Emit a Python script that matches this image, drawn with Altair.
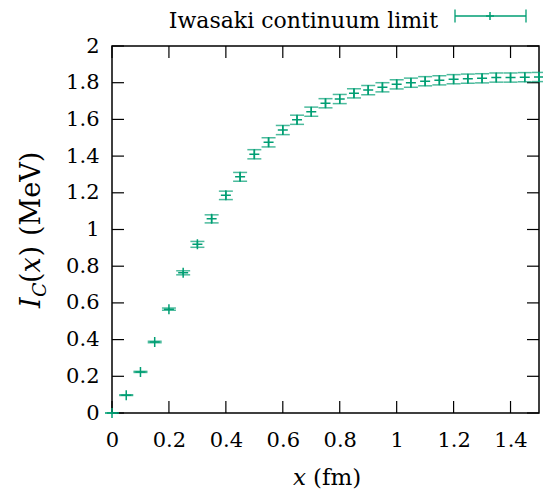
import altair as alt
import pandas as pd

# data
x_vals = [0.0, 0.05, 0.10, 0.15, 0.20, 0.25, 0.30, 0.35, 0.40, 0.45,
          0.50, 0.55, 0.60, 0.65, 0.70, 0.75, 0.80, 0.85, 0.90, 0.95,
          1.00, 1.05, 1.10, 1.15, 1.20, 1.25, 1.30, 1.35, 1.40, 1.45, 1.50]
y_vals = [0.0, 0.097, 0.224, 0.387, 0.566, 0.764, 0.919, 1.058, 1.186, 1.287,
          1.410, 1.475, 1.542, 1.598, 1.642, 1.688, 1.711, 1.742, 1.760, 1.775,
          1.791, 1.800, 1.808, 1.813, 1.819, 1.822, 1.824, 1.828, 1.828, 1.830, 1.831]
y_errs = [0.0, 0.002, 0.003, 0.004, 0.006, 0.011, 0.016, 0.022, 0.023, 0.024,
          0.025, 0.025, 0.025, 0.025, 0.025, 0.025, 0.025, 0.025, 0.025, 0.025,
          0.025, 0.025, 0.025, 0.025, 0.025, 0.025, 0.025, 0.025, 0.025, 0.025, 0.025]
x_ticks = [0, 0.2, 0.4, 0.6, 0.8, 1.0, 1.2, 1.4]
y_ticks = [0, 0.2, 0.4, 0.6, 0.8, 1.0, 1.2, 1.4, 1.6, 1.8, 2.0]
series_name = "Iwasaki continuum limit"

W, H = 427, 367
GREEN = "#009e73"
FONT = "DejaVu Serif"
TICK = 12

df = pd.DataFrame({"x": x_vals, "y": y_vals, "err": y_errs})
df["lo"] = df["y"] - df["err"]
df["hi"] = df["y"] + df["err"]

xs = alt.Scale(domain=[0, 1.5], nice=False, zero=False)
ys = alt.Scale(domain=[0, 2], nice=False, zero=False)

xaxis = alt.Axis(values=x_ticks, format="~g", labelFont=FONT, labelFontSize=21,
                 labelColor="black", ticks=False, domain=False, grid=False,
                 labelPadding=16, labelFlush=False, labelOverlap=False,
                 labelBound=False, title=None)
yaxis = alt.Axis(values=y_ticks, format="~g", labelFont=FONT, labelFontSize=21,
                 labelColor="black", ticks=False, domain=False, grid=False,
                 labelPadding=13, labelFlush=False, labelOverlap=False,
                 labelBound=False, title=None)


def X(f):
    return alt.X(f, scale=xs, axis=xaxis)


def Y(f):
    return alt.Y(f, scale=ys, axis=yaxis)


base = alt.Chart(df)

bars = base.mark_rule(color=GREEN, strokeWidth=1.5, clip=False).encode(
    x=X("x:Q"), y=Y("lo:Q"), y2="hi:Q")
cap_lo = base.mark_tick(color=GREEN, orient="horizontal", size=14, thickness=1.5,
                        clip=False).encode(x=X("x:Q"), y=Y("lo:Q"))
cap_hi = base.mark_tick(color=GREEN, orient="horizontal", size=14, thickness=1.5,
                        clip=False).encode(x=X("x:Q"), y=Y("hi:Q"))
pts = base.mark_point(shape="M-1,0L1,0M0,-1L0,1", size=100, strokeWidth=1.5,
                      color=GREEN, filled=False, opacity=1, clip=False).encode(
    x=X("x:Q"), y=Y("y:Q"))

xt = alt.Chart(pd.DataFrame({"t": x_ticks}))
yt = alt.Chart(pd.DataFrame({"t": y_ticks}))
tick_b = xt.mark_rule(color="black", strokeWidth=1.2).encode(
    x=X("t:Q"), y=alt.value(H), y2=alt.value(H - TICK))
tick_t = xt.mark_rule(color="black", strokeWidth=1.2).encode(
    x=X("t:Q"), y=alt.value(0), y2=alt.value(TICK))
tick_l = yt.mark_rule(color="black", strokeWidth=1.2).encode(
    y=Y("t:Q"), x=alt.value(0), x2=alt.value(TICK))
tick_r = yt.mark_rule(color="black", strokeWidth=1.2).encode(
    y=Y("t:Q"), x=alt.value(W), x2=alt.value(W - TICK))

lab = alt.Chart(pd.DataFrame({"name": [series_name]}))
leg_text = lab.mark_text(font=FONT, fontSize=22, align="right", baseline="alphabetic",
                         color="black").encode(
    text="name:N", x=alt.value(326), y=alt.value(-18))
leg_line = lab.mark_rule(color=GREEN, strokeWidth=1.3).encode(
    x=alt.value(343), x2=alt.value(414), y=alt.value(-30))
leg_cap1 = lab.mark_rule(color=GREEN, strokeWidth=1.3).encode(
    x=alt.value(343), y=alt.value(-36.5), y2=alt.value(-23.5))
leg_cap2 = lab.mark_rule(color=GREEN, strokeWidth=1.3).encode(
    x=alt.value(414), y=alt.value(-36.5), y2=alt.value(-23.5))
leg_pt = lab.mark_point(shape="M-1,0L1,0M0,-1L0,1", size=64, strokeWidth=1.5,
                        color=GREEN, filled=False, opacity=1).encode(
    x=alt.value(378), y=alt.value(-30))

xt_i = lab.mark_text(font=FONT, fontSize=23, fontStyle="italic", align="right",
                     baseline="alphabetic", color="black").encode(
    text=alt.value("x"), x=alt.value(194), y=alt.value(439))
xt_u = lab.mark_text(font=FONT, fontSize=23, align="left",
                     baseline="alphabetic", color="black").encode(
    text=alt.value("(fm)"), x=alt.value(201), y=alt.value(439))


def ypiece(txt, ypos, xpos=-72, size=27, italic=False):
    kw = dict(font=FONT, fontSize=size, align="left", baseline="alphabetic",
              angle=270, color="black")
    if italic:
        kw["fontStyle"] = "italic"
    return lab.mark_text(**kw).encode(text=alt.value(txt), x=alt.value(xpos),
                                      y=alt.value(ypos))


ytitle = [
    ypiece("I", 262, italic=True),
    ypiece("C", 251, xpos=-66, size=19, italic=True),
    ypiece("(", 237),
    ypiece("x", 226.5, italic=True),
    ypiece(")", 210.5),
    ypiece("(MeV)", 190),
]

chart = alt.layer(
    bars, tick_b, tick_t, tick_l, tick_r, cap_lo, cap_hi, pts,
    leg_text, leg_line, leg_cap1, leg_cap2, leg_pt, xt_i, xt_u, *ytitle
).properties(
    width=W, height=H,
    autosize=alt.AutoSizeParams(type="none"),
    padding={"left": 104, "top": 38, "right": 4, "bottom": 78},
).configure_view(
    stroke="black", strokeWidth=1.5
).configure_axis(
    labelOverlap=False
)

chart.save("out.html", embed_options={"renderer": "svg", "actions": False})
